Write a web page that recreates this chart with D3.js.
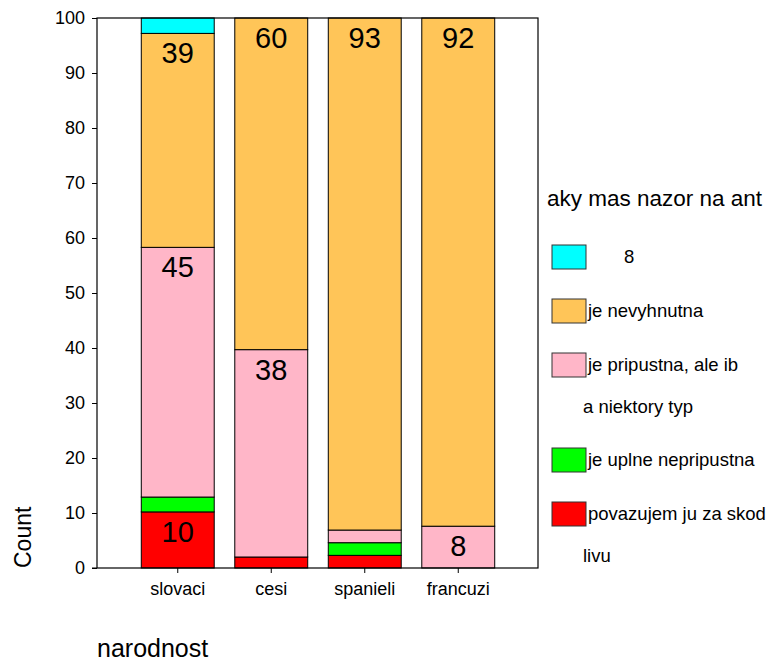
<!DOCTYPE html>
<html>
<head>
<meta charset="utf-8">
<script src="https://cdn.jsdelivr.net/npm/d3@7"></script>
<style>
body { margin: 0; background: #fff; }
text { font-family: Arial, "Liberation Sans", sans-serif; fill: #000; }
</style>
</head>
<body>
<script>
// categories on x axis
var categories = ['slovaci', 'cesi', 'spanieli', 'francuzi'];
// series, bottom of stack first
var seriesNames = ['povazujem ju za skodlivu', 'je uplne nepripustna', 'je pripustna, ale iba niektory typ', 'je nevyhnutna', '8'];
var seriesColors = ['#ff0000', '#00ff00', '#ffb6c8', '#ffc558', '#00ffff'];
// percent of each category
var redVals    = [10.2, 2.0, 2.3, 0];
var greenVals  = [2.7, 0, 2.3, 0];
var pinkVals   = [45.4, 37.7, 2.3, 7.6];
var orangeVals = [38.9, 60.3, 93.1, 92.4];
var cyanVals   = [2.8, 0, 0, 0];
var yTicks = [0, 10, 20, 30, 40, 50, 60, 70, 80, 90, 100];
// legend text lines, top to bottom
var legendLines = [['       8'], ['je nevyhnutna'], ['je pripustna, ale ib', 'a niektory typ'], ['je uplne nepripustna'], ['povazujem ju za skod', 'livu']];

var allVals = [redVals, greenVals, pinkVals, orangeVals, cyanVals];
var rows = categories.map(function (c, i) {
    var r = { cat: c };
    seriesNames.forEach(function (s, j) { r[s] = allVals[j][i]; });
    return r;
});

var svg = d3.select('body').append('svg')
    .attr('width', 779)
    .attr('height', 661);

var plotLeft = 97, plotRight = 538, plotTop = 18, plotBottom = 568;

var x = d3.scaleBand()
    .domain(categories)
    .range([131, 505])
    .paddingInner(0.22)
    .paddingOuter(0.11);

var y = d3.scaleLinear()
    .domain([0, 100])
    .range([plotBottom, plotTop]);

var stack = d3.stack().keys(seriesNames)(rows);

var g = svg.append('g');

stack.forEach(function (layer, j) {
    g.selectAll('.s' + j)
        .data(layer)
        .enter()
        .append('rect')
            .attr('x', function (d) { return x(d.data.cat); })
            .attr('y', function (d) { return y(d[1]); })
            .attr('width', x.bandwidth())
            .attr('height', function (d) { return y(d[0]) - y(d[1]); })
            .attr('fill', seriesColors[j])
            .attr('stroke', function (d) { return d[1] - d[0] > 0 ? '#000' : 'none'; })
            .attr('stroke-width', 1);
});

// segment labels
stack.forEach(function (layer) {
    g.selectAll(null)
        .data(layer.filter(function (d) { return d[1] - d[0] >= 5; }))
        .enter()
        .append('text')
            .attr('x', function (d) { return x(d.data.cat) + x.bandwidth() / 2; })
            .attr('y', function (d) { return y(d[1]) + 30; })
            .attr('text-anchor', 'middle')
            .style('font-size', '29px')
            .text(function (d) { return Math.round(d[1] - d[0]); });
});

// frame
svg.append('rect')
    .attr('x', plotLeft)
    .attr('y', plotTop)
    .attr('width', plotRight - plotLeft)
    .attr('height', plotBottom - plotTop)
    .attr('fill', 'none')
    .attr('stroke', '#000')
    .attr('stroke-width', 1.2);

var yAxis = svg.append('g')
    .attr('transform', 'translate(' + plotLeft + ',0)')
    .call(d3.axisLeft(y).tickValues(yTicks).tickSize(5).tickPadding(7));
yAxis.select('.domain').remove();
yAxis.selectAll('text').style('font-size', '18px').style('font-family', 'Arial, "Liberation Sans", sans-serif');

var xAxis = svg.append('g')
    .attr('transform', 'translate(0,' + plotBottom + ')')
    .call(d3.axisBottom(x).tickSize(5).tickPadding(9));
xAxis.select('.domain').remove();
xAxis.selectAll('text').style('font-size', '18px').style('font-family', 'Arial, "Liberation Sans", sans-serif');

svg.append('line')
    .attr('x1', 92).attr('x2', plotLeft)
    .attr('y1', plotBottom).attr('y2', plotBottom)
    .attr('stroke', '#000');

svg.append('text')
    .attr('transform', 'translate(31,568) rotate(-90)')
    .style('font-size', '23px')
    .text('Count');

svg.append('text')
    .attr('x', 97)
    .attr('y', 657)
    .style('font-size', '25px')
    .text('narodnost');

// legend
svg.append('text')
    .attr('x', 547)
    .attr('y', 206)
    .style('font-size', '22.5px')
    .text('aky mas nazor na ant');

var legendTops = [245, 299, 353, 448, 502];
var legendColors = seriesColors.slice().reverse();
legendLines.forEach(function (lines, i) {
    var ly = legendTops[i];
    svg.append('rect')
        .attr('x', 552)
        .attr('y', ly)
        .attr('width', 34)
        .attr('height', 24)
        .attr('fill', legendColors[i])
        .attr('stroke', '#333');
    lines.forEach(function (t, k) {
        svg.append('text')
            .attr('x', k === 0 ? 588 : 583)
            .attr('y', ly + 18 + k * 42)
            .attr('xml:space', 'preserve')
            .style('white-space', 'pre')
            .style('font-size', '18.5px')
            .text(t);
    });
});
</script>
</body>
</html>
